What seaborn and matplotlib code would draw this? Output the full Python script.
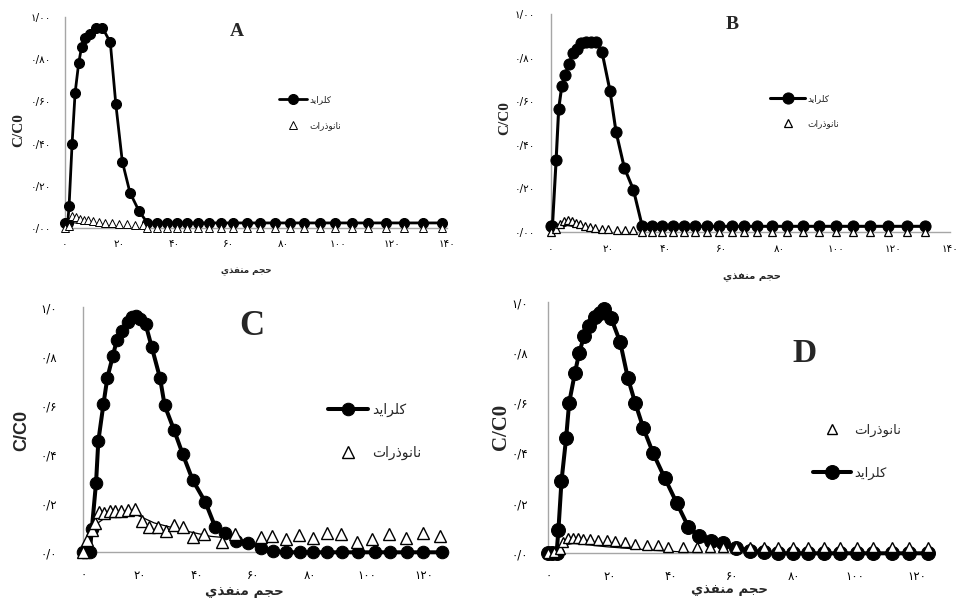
import matplotlib
matplotlib.use("Agg")
import matplotlib.pyplot as plt
import seaborn as sns

# ---------------- data ----------------
# Panel A
A_CL_X = [0, 1, 1.5, 2.6, 3.7, 5.0, 6.1, 7.5, 9.2, 11.2, 13.7, 16.6, 18.6, 21.0, 23.8, 27.1, 30.2,
          33.6, 37.2, 40.9, 44.6, 48.6, 52.8, 57.1, 61.7, 66.6, 71.5, 77.0, 82.3, 87.6, 93.3,
          99.0, 105.1, 111.2, 117.6, 124.3, 131.2, 138.1]
A_CL_Y = [0.024, 0.024, 0.105, 0.40, 0.64, 0.78, 0.86, 0.90, 0.92, 0.95, 0.95, 0.88, 0.59, 0.315,
          0.168, 0.081, 0.024] + [0.024] * 21
A_NA_X = [0, 1.5, 2.7, 4.0, 5.5, 7.0, 8.5, 10.3, 12.4, 14.7, 17.1, 19.8, 22.6, 25.7, 28.7,
          30.2, 33.6, 37.2, 40.9, 44.6, 48.6, 52.8, 57.1, 61.7, 66.6, 71.5, 77.0, 82.3, 87.6,
          93.3, 99.0, 105.1, 111.2, 117.6, 124.3, 131.2, 138.1]
A_NA_Y = [0, 0.01, 0.058, 0.05, 0.045, 0.04, 0.036, 0.032, 0.028, 0.025, 0.022, 0.02, 0.017,
          0.015, 0.013] + [0] * 22
A_TR_X = [1, 3, 8, 14, 20]
A_TR_Y = [0.01, 0.025, 0.018, 0.008, 0.0]

# Panel B
B_CL_X = [0, 0.6, 1.9, 2.8, 3.9, 5.0, 6.4, 7.7, 9.1, 10.5, 12.4, 14.0, 15.9, 18.0, 20.8, 22.9,
          25.8, 29.0, 32.1, 35.4, 39.1, 43.0, 46.6, 50.5, 54.7, 58.9, 63.4, 67.8, 72.4, 77.5,
          82.9, 88.3, 94.2, 100.0, 106.1, 112.1, 118.2, 124.8, 131.2]
B_CL_Y = [0.026, 0.026, 0.33, 0.565, 0.67, 0.72, 0.77, 0.82, 0.84, 0.866, 0.87, 0.87, 0.87, 0.825,
          0.647, 0.46, 0.295, 0.194, 0.026] + [0.026] * 20
B_NA_X = [0, 1.9, 3.3, 4.7, 5.9, 7.4, 8.9, 10.3, 12.1, 13.8, 15.7, 17.9, 20.2, 23.1, 26.0, 29.0,
          32.1, 35.4, 39.1, 43.0, 46.6, 50.5, 54.7, 58.9, 63.4, 67.8, 72.4, 77.5, 82.9, 88.3,
          94.2, 100.0, 106.1, 112.1, 118.2, 124.8, 131.2]
B_NA_Y = [0, 0.015, 0.035, 0.05, 0.055, 0.05, 0.042, 0.035, 0.028, 0.022, 0.018, 0.014, 0.012,
          0.01, 0.01, 0.01] + [0] * 21
B_TR_X = [1, 3.3, 5.9, 15.5, 20.8]
B_TR_Y = [0.005, 0.018, 0.03, 0.008, 0.0]

# Panel C
C_CL_X = [0, 1, 2.3, 3.0, 4.5, 5.3, 7.1, 8.5, 10.4, 11.8, 13.5, 15.6, 17.3, 18.7, 20.0, 22.0,
          24.1, 27.1, 28.7, 32.0, 35.1, 38.6, 43.1, 46.5, 50.1, 53.8, 58.2, 62.6, 66.8, 71.5,
          76.5, 81.2, 85.9, 91.2, 97.1, 102.9, 108.2, 114.1, 120.0, 126.5]
C_CL_Y = [0, 0, 0, 0.094, 0.284, 0.454, 0.604, 0.713, 0.80, 0.865, 0.902, 0.94, 0.96, 0.966,
          0.951, 0.93, 0.84, 0.71, 0.60, 0.50, 0.40, 0.295, 0.204, 0.105, 0.08, 0.046, 0.04,
          0.019, 0.005] + [0] * 11
C_NA_X = [0, 1.4, 2.9, 4.1, 5.5, 7.3, 9.4, 11.2, 13.2, 15.6, 18.2, 20.8, 23.3, 26.2, 29.1, 32.0,
          35.3, 38.8, 42.6, 49.1, 53.6, 62.6, 66.6, 71.5, 76.2, 80.9, 86.1, 90.9, 96.5, 102.0,
          108.0, 113.9, 119.8, 125.9]
C_NA_Y = [0, 0.05, 0.09, 0.118, 0.166, 0.162, 0.167, 0.17, 0.17, 0.173, 0.175, 0.128, 0.102,
          0.102, 0.086, 0.112, 0.102, 0.064, 0.073, 0.041, 0.075, 0.064, 0.067, 0.053, 0.071,
          0.058, 0.078, 0.075, 0.044, 0.053, 0.075, 0.057, 0.078, 0.067]
C_TR_X = [2, 4, 7, 12, 19, 25, 35, 45, 50]
C_TR_Y = [0.05, 0.11, 0.135, 0.148, 0.152, 0.12, 0.09, 0.065, 0.06]

# Panel D
D_CL_X = [0, 1.1, 2.7, 3.3, 4.3, 5.8, 6.8, 8.7, 10.1, 11.7, 13.4, 15.2, 16.8, 18.3, 20.4, 23.4,
          25.9, 28.3, 31.0, 34.2, 38.0, 41.8, 45.7, 49.1, 52.9, 57.1, 61.1, 65.8, 70.3, 75.0,
          79.9, 84.8, 89.9, 95.1, 100.5, 106.0, 112.0, 117.7, 123.9]
D_CL_Y = [0, 0, 0, 0.093, 0.288, 0.458, 0.60, 0.72, 0.80, 0.867, 0.907, 0.94, 0.959, 0.973,
          0.939, 0.843, 0.70, 0.60, 0.498, 0.398, 0.299, 0.202, 0.104, 0.07, 0.05, 0.04, 0.02,
          0.011, 0.004] + [0] * 10
D_NA_X = [0, 2.0, 3.8, 4.9, 6.5, 8.2, 9.8, 11.4, 13.6, 16.3, 19.0, 21.7, 25.0, 28.3, 32.1, 35.9,
          39.1, 44.0, 48.4, 52.7, 57.1, 61.1, 65.8, 70.3, 75.0, 79.9, 84.8, 89.9, 95.1, 100.5,
          106.0, 112.0, 117.7, 123.9]
D_NA_Y = [0, 0.005, 0.019, 0.045, 0.061, 0.061, 0.061, 0.058, 0.056, 0.052, 0.052, 0.048, 0.045,
          0.038, 0.035, 0.032, 0.025, 0.025, 0.025] + [0.025] * 15
D_TR_X = [2, 3.8, 8.2, 19, 33, 48.4]
D_TR_Y = [0.01, 0.029, 0.04, 0.026, 0.013, 0.002]

# Tick labels
XT_AB = [0, 20, 40, 60, 80, 100, 120, 140]
XT_AB_LABELS = ['۰', '۲۰', '۴۰', '۶۰', '۸۰', '۱۰۰', '۱۲۰', '۱۴۰']
XT_CD = [0, 20, 40, 60, 80, 100, 120]
XT_CD_LABELS = ['۰', '۲۰', '۴۰', '۶۰', '۸۰', '۱۰۰', '۱۲۰']
YT = [0, 0.2, 0.4, 0.6, 0.8, 1.0]
YT_AB_LABELS = ['۰/۰۰', '۰/۲۰', '۰/۴۰', '۰/۶۰', '۰/۸۰', '۱/۰۰']
YT_CD_LABELS = ['۰/۰', '۰/۲', '۰/۴', '۰/۶', '۰/۸', '۱/۰']

CL_LABEL = 'كلرايد'
NA_LABEL = 'نانوذرات'
X_LABEL = 'حجم منفذي'
Y_LABEL = 'C/C0'

# ---------------- Arabic shaping (presentation forms, visual order) ----------------
FORMS = {
    '\u0627': ('\uFE8D', '\uFE8E', None, None),
    '\u062A': ('\uFE95', '\uFE96', '\uFE97', '\uFE98'),
    '\u062C': ('\uFE9D', '\uFE9E', '\uFE9F', '\uFEA0'),
    '\u062D': ('\uFEA1', '\uFEA2', '\uFEA3', '\uFEA4'),
    '\u062F': ('\uFEA9', '\uFEAA', None, None),
    '\u0630': ('\uFEAB', '\uFEAC', None, None),
    '\u0631': ('\uFEAD', '\uFEAE', None, None),
    '\u0641': ('\uFED1', '\uFED2', '\uFED3', '\uFED4'),
    '\u0643': ('\uFED9', '\uFEDA', '\uFEDB', '\uFEDC'),
    '\u0644': ('\uFEDD', '\uFEDE', '\uFEDF', '\uFEE0'),
    '\u0645': ('\uFEE1', '\uFEE2', '\uFEE3', '\uFEE4'),
    '\u0646': ('\uFEE5', '\uFEE6', '\uFEE7', '\uFEE8'),
    '\u0648': ('\uFEED', '\uFEEE', None, None),
    '\u064A': ('\uFEF1', '\uFEF2', '\uFEF3', '\uFEF4'),
}


def shape(text):
    text = text.replace('\u06A9', '\u0643').replace('\u06CC', '\u064A')
    out = []
    n = len(text)
    for i, ch in enumerate(text):
        f = FORMS.get(ch)
        if f is None:
            out.append(ch)
            continue
        prev = text[i - 1] if i > 0 else ''
        nxt = text[i + 1] if i < n - 1 else ''
        pj = prev in FORMS and FORMS[prev][2] is not None
        nj = f[2] is not None and nxt in FORMS
        if pj and nj:
            g = f[3]
        elif pj:
            g = f[1]
        elif nj:
            g = f[2]
        else:
            g = f[0]
        out.append(g)
    return ''.join(reversed(out))


sns.set_style("white")
plt.rcParams['font.family'] = ['DejaVu Sans']

W, H = 959, 599
fig = plt.figure(figsize=(W / 100, H / 100), dpi=100)


def add_ax(left, top, right, bottom):
    return fig.add_axes([left / W, 1 - bottom / H, (right - left) / W, (bottom - top) / H])


GRAY = '#a6a6a6'


def panel(ax, cl_x, cl_y, na_x, na_y, tr_x, tr_y, xmax, xt, xtl, ytl, cfg):
    sns.lineplot(x=cl_x, y=cl_y, ax=ax, color='black', linewidth=cfg['lw'], marker='o',
                 markersize=cfg['ms_c'], markerfacecolor='black', markeredgecolor='black',
                 sort=False, errorbar=None, clip_on=False, zorder=3)
    h_cl = ax.get_lines()[-1]
    sns.lineplot(x=tr_x, y=tr_y, ax=ax, color='black', linewidth=0.9, sort=False,
                 errorbar=None, zorder=2)
    sns.lineplot(x=na_x, y=na_y, ax=ax, color='black', linewidth=0, linestyle='', marker='^',
                 markersize=cfg['ms_t'], markerfacecolor='white', markeredgecolor='black',
                 markeredgewidth=cfg['mew'], sort=False, errorbar=None, clip_on=False, zorder=4)
    h_na = ax.get_lines()[-1]

    ax.set_xlim(0, xmax)
    ax.set_ylim(0, 1.0)
    ax.set_xticks(xt)
    ax.set_xticklabels(xtl)
    ax.set_yticks(YT)
    ax.set_yticklabels(ytl)
    for s in ['top', 'right']:
        ax.spines[s].set_visible(False)
    for s in ['left', 'bottom']:
        ax.spines[s].set_color(GRAY)
        ax.spines[s].set_linewidth(1.0)
    ax.tick_params(axis='both', direction='out', length=cfg['tl'], width=0.8, color=GRAY,
                   labelsize=cfg['tick_fs'], labelcolor='black')
    ax.tick_params(axis='y', pad=cfg['ypad'])
    ax.tick_params(axis='x', pad=cfg['xpad'])

    ax.set_xlabel(shape(X_LABEL), fontsize=cfg['xl_fs'], fontweight='bold')
    ax.xaxis.label.set_va('center')
    ax.xaxis.set_label_coords(*cfg['xl_pos'])
    ax.set_ylabel(Y_LABEL, fontsize=cfg['yl_fs'], fontweight='bold', family=cfg['yl_fam'])
    ax.yaxis.label.set_va('center')
    ax.yaxis.set_label_coords(*cfg['yl_pos'])

    ax.text(cfg['letter_pos'][0], cfg['letter_pos'][1], cfg['letter'], transform=ax.transAxes,
            ha='center', va='center', fontsize=cfg['letter_fs'], fontweight='bold',
            family='Liberation Serif')

    handles = [h_cl, h_na]
    labels = [shape(CL_LABEL), shape(NA_LABEL)]
    if cfg.get('reverse'):
        handles, labels = handles[::-1], labels[::-1]
    ax.legend(handles, labels, loc='center left', bbox_to_anchor=cfg['leg_pos'], frameon=False,
              fontsize=cfg['leg_fs'], handlelength=cfg['hl'], handletextpad=0.25,
              labelspacing=cfg['ls'], borderpad=0, borderaxespad=0, numpoints=1)


axA = add_ax(65, 17, 447, 228)
panel(axA, A_CL_X, A_CL_Y, A_NA_X, A_NA_Y, A_TR_X, A_TR_Y, 140, XT_AB, XT_AB_LABELS, YT_AB_LABELS,
      dict(lw=2.0, ms_c=7.2, ms_t=5.2, mew=0.7, tick_fs=7.5, tl=3, ypad=7, xpad=5, xl_fs=6.3,
           xl_pos=(0.475, -0.204), yl_fs=11, yl_fam='Liberation Serif', yl_pos=(-0.122, 0.464),
           letter='A', letter_pos=(0.45, 0.929), letter_fs=14,
           leg_pos=(0.56, 0.545), leg_fs=6.5, hl=3.1, ls=1.9))

axB = add_ax(550.7, 14, 950, 232)
panel(axB, B_CL_X, B_CL_Y, B_NA_X, B_NA_Y, B_TR_X, B_TR_Y, 140, XT_AB, XT_AB_LABELS, YT_AB_LABELS,
      dict(lw=2.2, ms_c=8, ms_t=6, mew=0.9, tick_fs=7.5, tl=3, ypad=8, xpad=6, xl_fs=7.2,
           xl_pos=(0.503, -0.205), yl_fs=11, yl_fam='Liberation Serif', yl_pos=(-0.114, 0.522),
           letter='B', letter_pos=(0.454, 0.95), letter_fs=14,
           leg_pos=(0.549, 0.553), leg_fs=6.5, hl=3.9, ls=1.8))

axC = add_ax(83.3, 307.3, 448, 552.3)
panel(axC, C_CL_X, C_CL_Y, C_NA_X, C_NA_Y, C_TR_X, C_TR_Y, 128.7, XT_CD, XT_CD_LABELS, YT_CD_LABELS,
      dict(lw=2.9, ms_c=9, ms_t=8, mew=1.0, tick_fs=8.5, tl=3.6, ypad=15, xpad=8.5, xl_fs=9.7,
           xl_pos=(0.443, -0.16), yl_fs=13, yl_fam='Liberation Sans', yl_pos=(-0.169, 0.499),
           letter='C', letter_pos=(0.463, 0.92), letter_fs=25,
           leg_pos=(0.671, 0.493), leg_fs=10, hl=2.9, ls=2.1))

axD = add_ax(548.3, 302.3, 933, 553.3)
panel(axD, D_CL_X, D_CL_Y, D_NA_X, D_NA_Y, D_TR_X, D_TR_Y, 125.4, XT_CD, XT_CD_LABELS, YT_CD_LABELS,
      dict(lw=2.9, ms_c=10, ms_t=7.7, mew=1.0, tick_fs=8.5, tl=3.6, ypad=11, xpad=8.5, xl_fs=9.5,
           xl_pos=(0.472, -0.146), yl_fs=15, yl_fam='Liberation Serif', yl_pos=(-0.124, 0.504),
           letter='D', letter_pos=(0.667, 0.798), letter_fs=24, reverse=True,
           leg_pos=(0.688, 0.404), leg_fs=9.5, hl=2.9, ls=2.3))

fig.savefig('out.png', dpi=100)
